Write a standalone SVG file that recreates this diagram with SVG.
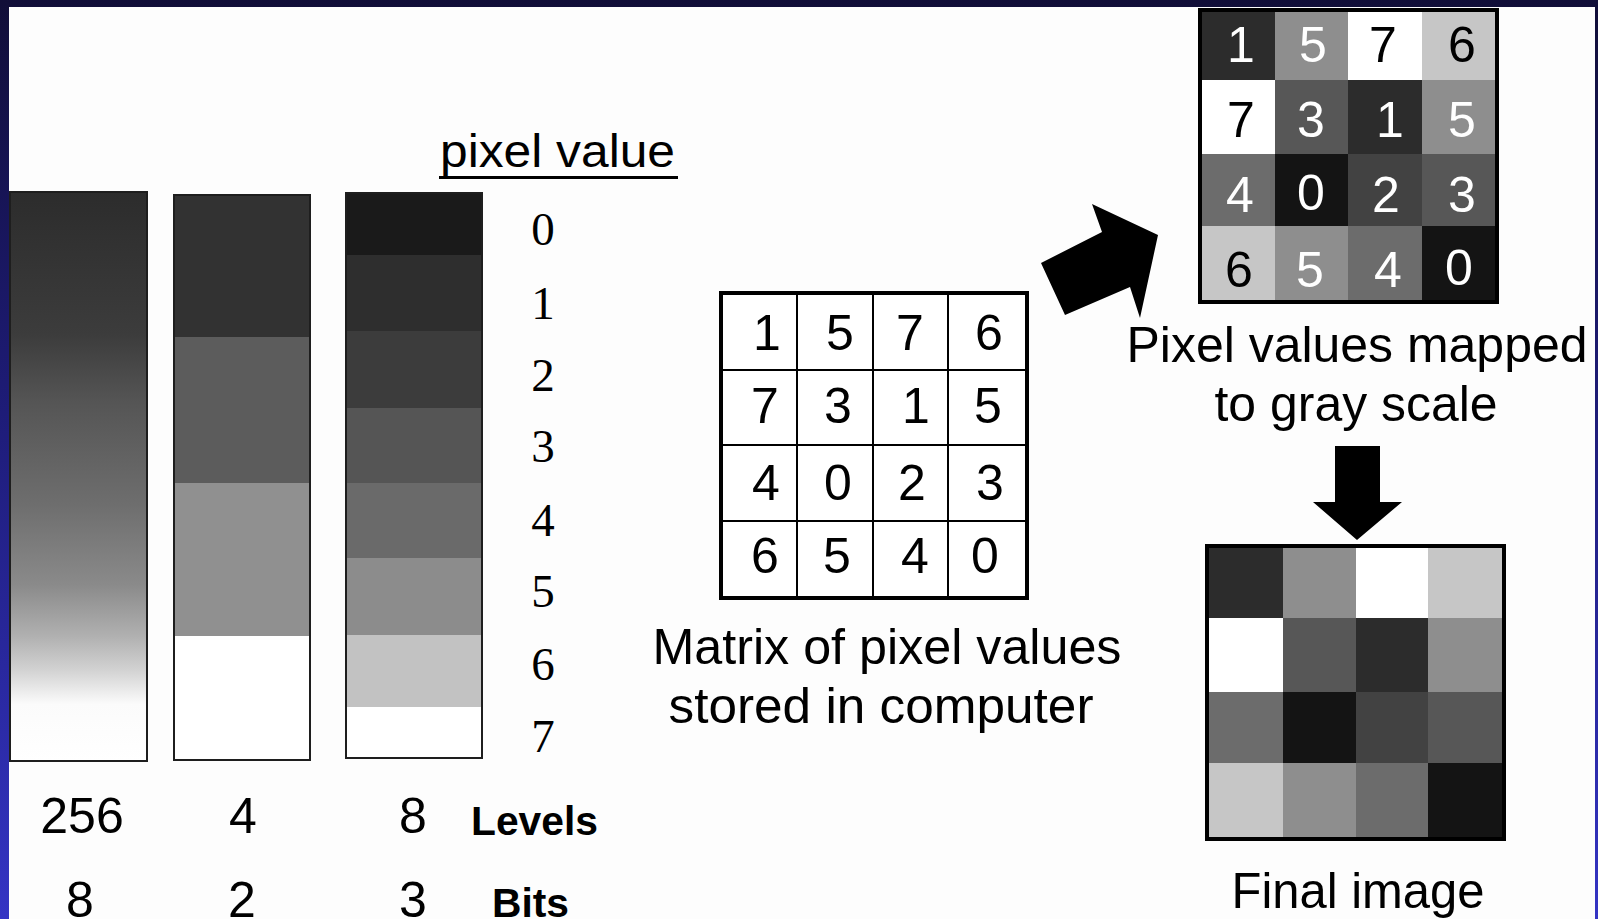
<svg xmlns="http://www.w3.org/2000/svg" width="1598" height="919" viewBox="0 0 1598 919">
  <defs>
    <linearGradient id="frame" x1="0" y1="0" x2="0" y2="1">
      <stop offset="0" stop-color="#110e38"/>
      <stop offset="0.45" stop-color="#1e1c78"/>
      <stop offset="1" stop-color="#3434c4"/>
    </linearGradient>
    <linearGradient id="ramp" x1="0" y1="0" x2="0" y2="1">
      <stop offset="0" stop-color="#2c2c2c"/>
      <stop offset="0.25" stop-color="#3c3c3c"/>
      <stop offset="0.37" stop-color="#555555"/>
      <stop offset="0.55" stop-color="#6e6e6e"/>
      <stop offset="0.69" stop-color="#8a8a8a"/>
      <stop offset="0.78" stop-color="#b0b0b0"/>
      <stop offset="0.84" stop-color="#d2d2d2"/>
      <stop offset="0.9" stop-color="#fbfbfb"/>
      <stop offset="1" stop-color="#ffffff"/>
    </linearGradient>
    <style>
      .sans { font-family: "Liberation Sans", Arial, sans-serif; fill: #000; }
      .serif { font-family: "Liberation Serif", "Times New Roman", serif; fill: #000; }
      .cap { font-size: 50px; text-anchor: middle; }
      .num { font-size: 50px; text-anchor: middle; }
      .lbl { font-size: 41px; font-weight: bold; }
      .pv { font-size: 47px; text-anchor: middle; }
      .barframe { fill: none; stroke: #1e1e1e; stroke-width: 2; }
      .grid { stroke: #000; stroke-width: 2; fill: none; }
      .outer { stroke: #000; stroke-width: 4; fill: none; }
      .w { fill: #ffffff; }
      .k { fill: #000000; }
      .g0 { fill: #141414; } .g1 { fill: #2c2c2c; } .g2 { fill: #424242; } .g3 { fill: #575757; }
      .g4 { fill: #6c6c6c; } .g5 { fill: #8e8e8e; } .g6 { fill: #c6c6c6; } .g7 { fill: #ffffff; }
    </style>
  </defs>

  <!-- frame -->
  <rect x="0" y="0" width="1598" height="919" fill="url(#frame)"/>
  <rect x="9" y="7" width="1586" height="912" fill="#fdfdfd"/>

  <!-- bar 256 levels -->
  <g id="bar256">
    <rect x="10" y="192" width="137" height="569" fill="url(#ramp)"/>
    <rect x="10" y="192" width="137" height="569" class="barframe"/>
  </g>

  <!-- bar 4 levels -->
  <g id="bar4">
    <rect x="174" y="195" width="136" height="142" fill="#323232"/>
    <rect x="174" y="337" width="136" height="146" fill="#5c5c5c"/>
    <rect x="174" y="483" width="136" height="153" fill="#909090"/>
    <rect x="174" y="636" width="136" height="124" fill="#ffffff"/>
    <rect x="174" y="195" width="136" height="565" class="barframe"/>
  </g>

  <!-- bar 8 levels -->
  <g id="bar8">
    <rect x="346" y="193" width="136" height="62" fill="#1a1a1a"/>
    <rect x="346" y="255" width="136" height="76" fill="#2e2e2e"/>
    <rect x="346" y="331" width="136" height="77" fill="#3c3c3c"/>
    <rect x="346" y="408" width="136" height="75" fill="#555555"/>
    <rect x="346" y="483" width="136" height="75" fill="#6a6a6a"/>
    <rect x="346" y="558" width="136" height="77" fill="#8c8c8c"/>
    <rect x="346" y="635" width="136" height="72" fill="#c2c2c2"/>
    <rect x="346" y="707" width="136" height="51" fill="#ffffff"/>
    <rect x="346" y="193" width="136" height="565" class="barframe"/>
  </g>

  <!-- pixel value scale -->
  <g id="pixel-value-scale">
    <text x="440" y="167" class="sans" font-size="46" textLength="235" lengthAdjust="spacingAndGlyphs">pixel value</text>
    <rect x="439" y="176" width="239" height="3" fill="#000"/>
    <text x="543" y="245" class="serif pv">0</text>
    <text x="543" y="319" class="serif pv">1</text>
    <text x="543" y="391" class="serif pv">2</text>
    <text x="543" y="462" class="serif pv">3</text>
    <text x="543" y="536" class="serif pv">4</text>
    <text x="543" y="607" class="serif pv">5</text>
    <text x="543" y="680" class="serif pv">6</text>
    <text x="543" y="752" class="serif pv">7</text>
  </g>

  <!-- levels / bits rows -->
  <g id="levels-row">
    <text x="82" y="833" class="sans num">256</text>
    <text x="243" y="833" class="sans num">4</text>
    <text x="413" y="833" class="sans num">8</text>
    <text x="471" y="835" class="sans lbl" textLength="127" lengthAdjust="spacingAndGlyphs">Levels</text>
  </g>
  <g id="bits-row">
    <text x="80" y="917" class="sans num">8</text>
    <text x="242" y="917" class="sans num">2</text>
    <text x="413" y="917" class="sans num">3</text>
    <text x="492" y="917" class="sans lbl" textLength="77" lengthAdjust="spacingAndGlyphs">Bits</text>
  </g>

  <!-- matrix of pixel values -->
  <g id="matrix">
    <rect x="721" y="293" width="306" height="305" fill="#ffffff"/>
    <path class="grid" d="M797 293V598M873 293V598M948 293V598M721 370H1027M721 445H1027M721 521H1027"/>
    <rect x="721" y="293" width="306" height="305" class="outer"/>
    <g class="sans num">
      <text x="767" y="350">1</text><text x="840" y="350">5</text><text x="910" y="350">7</text><text x="989" y="350">6</text>
      <text x="765" y="423">7</text><text x="838" y="423">3</text><text x="916" y="423">1</text><text x="988" y="423">5</text>
      <text x="766" y="500">4</text><text x="838" y="500">0</text><text x="912" y="500">2</text><text x="990" y="500">3</text>
      <text x="765" y="573">6</text><text x="837" y="573">5</text><text x="915" y="573">4</text><text x="985" y="573">0</text>
    </g>
    <text x="887" y="664" class="sans cap" font-size="51" textLength="469" lengthAdjust="spacingAndGlyphs">Matrix of pixel values</text>
    <text x="881" y="723" class="sans cap" font-size="51" textLength="425" lengthAdjust="spacingAndGlyphs">stored in computer</text>
  </g>

  <!-- gray scale mapped matrix -->
  <g id="mapped">
    <rect x="1200" y="10" width="75" height="70" class="g1"/>
    <rect x="1275" y="10" width="73" height="70" class="g5"/>
    <rect x="1348" y="10" width="74" height="70" class="g7"/>
    <rect x="1422" y="10" width="75" height="70" class="g6"/>
    <rect x="1200" y="80" width="75" height="74" class="g7"/>
    <rect x="1275" y="80" width="73" height="74" class="g3"/>
    <rect x="1348" y="80" width="74" height="74" class="g1"/>
    <rect x="1422" y="80" width="75" height="74" class="g5"/>
    <rect x="1200" y="154" width="75" height="72" class="g4"/>
    <rect x="1275" y="154" width="73" height="72" class="g0"/>
    <rect x="1348" y="154" width="74" height="72" class="g2"/>
    <rect x="1422" y="154" width="75" height="72" class="g3"/>
    <rect x="1200" y="226" width="75" height="76" class="g6"/>
    <rect x="1275" y="226" width="73" height="76" class="g5"/>
    <rect x="1348" y="226" width="74" height="76" class="g4"/>
    <rect x="1422" y="226" width="75" height="76" class="g0"/>
    <rect x="1200" y="10" width="297" height="292" class="outer"/>
    <g class="sans num" font-size="49">
      <text x="1241" y="62" class="w">1</text><text x="1313" y="62" class="w">5</text><text x="1383" y="62" class="k">7</text><text x="1462" y="62" class="k">6</text>
      <text x="1241" y="137" class="k">7</text><text x="1311" y="137" class="w">3</text><text x="1390" y="137" class="w">1</text><text x="1462" y="137" class="w">5</text>
      <text x="1240" y="212" class="w">4</text><text x="1311" y="210" class="w">0</text><text x="1386" y="212" class="w">2</text><text x="1462" y="212" class="w">3</text>
      <text x="1239" y="287" class="k">6</text><text x="1310" y="287" class="w">5</text><text x="1388" y="287" class="w">4</text><text x="1459" y="285" class="w">0</text>
    </g>
    <text x="1357" y="362" class="sans cap" textLength="461" lengthAdjust="spacingAndGlyphs">Pixel values mapped</text>
    <text x="1356" y="421" class="sans cap" textLength="283" lengthAdjust="spacingAndGlyphs">to gray scale</text>
  </g>

  <!-- final image -->
  <g id="final-image">
    <rect x="1207" y="546" width="76" height="72" class="g1"/>
    <rect x="1283" y="546" width="73" height="72" class="g5"/>
    <rect x="1356" y="546" width="72" height="72" class="g7"/>
    <rect x="1428" y="546" width="76" height="72" class="g6"/>
    <rect x="1207" y="618" width="76" height="74" class="g7"/>
    <rect x="1283" y="618" width="73" height="74" class="g3"/>
    <rect x="1356" y="618" width="72" height="74" class="g1"/>
    <rect x="1428" y="618" width="76" height="74" class="g5"/>
    <rect x="1207" y="692" width="76" height="71" class="g4"/>
    <rect x="1283" y="692" width="73" height="71" class="g0"/>
    <rect x="1356" y="692" width="72" height="71" class="g2"/>
    <rect x="1428" y="692" width="76" height="71" class="g3"/>
    <rect x="1207" y="763" width="76" height="76" class="g6"/>
    <rect x="1283" y="763" width="73" height="76" class="g5"/>
    <rect x="1356" y="763" width="72" height="76" class="g4"/>
    <rect x="1428" y="763" width="76" height="76" class="g0"/>
    <rect x="1207" y="546" width="297" height="293" class="outer"/>
    <text x="1358" y="908" class="sans cap" font-size="49" textLength="253" lengthAdjust="spacingAndGlyphs">Final image</text>
  </g>

  <!-- connectors -->
  <g id="connectors" fill="#000">
    <polygon points="1041,263 1102,232 1092,204 1158,235 1140,318 1130,287 1065,315"/>
    <polygon points="1335,446 1380,446 1380,502 1402,502 1357,540 1313,502 1335,502"/>
  </g>
</svg>
